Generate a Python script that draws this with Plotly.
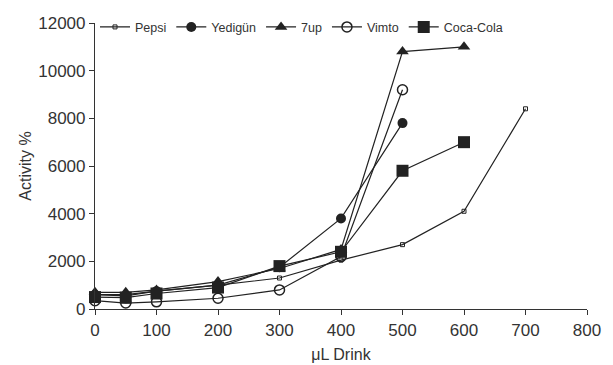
import plotly.graph_objects as go

doses = [0, 50, 100, 200, 300, 400, 500, 600, 700]
pepsi = [600, 600, 750, 1000, 1300, 2050, 2700, 4100, 8400]
yedigun = [600, 550, 750, 1000, 1750, 3800, 7800]
sevenup = [700, 700, 800, 1150, 1700, 2500, 10800, 11000]
vimto = [350, 250, 300, 450, 800, 2200, 9200]
cocacola = [500, 480, 650, 900, 1800, 2400, 5800, 7000]
y_ticks = [0, 2000, 4000, 6000, 8000, 10000, 12000]
x_ticks = [0, 100, 200, 300, 400, 500, 600, 700, 800]

series = [
    ("Pepsi", pepsi, dict(symbol="square-open", size=4, line=dict(width=1))),
    ("Yedigün", yedigun, dict(symbol="circle", size=10)),
    ("7up", sevenup, dict(symbol="triangle-up", size=11)),
    ("Vimto", vimto, dict(symbol="circle-open", size=10, line=dict(width=1.5))),
    ("Coca-Cola", cocacola, dict(symbol="square", size=12)),
]

fig = go.Figure()
for name, vals, mk in series:
    fig.add_trace(go.Scatter(
        x=doses[:len(vals)], y=vals, name=name, mode="lines+markers",
        line=dict(color="#222", width=1.2),
        marker=dict(color="#222", **mk),
        cliponaxis=False,
    ))

axis_font = dict(family="Liberation Sans, Arial, sans-serif", size=17, color="#333")
fig.update_layout(
    width=613, height=365,
    margin=dict(l=95, r=26, t=16, b=56),
    paper_bgcolor="white", plot_bgcolor="white",
    showlegend=True,
    legend=dict(orientation="h", x=0.0, xanchor="left", y=0.985, yanchor="middle",
                font=dict(family="Liberation Sans Narrow, Liberation Sans, Arial", size=12.5, color="#333"),
                bgcolor="rgba(0,0,0,0)", itemwidth=30, tracegroupgap=0),
    xaxis=dict(range=[0, 800], tickvals=x_ticks, ticktext=[str(v) for v in x_ticks],
               automargin=False,
               showline=True, linecolor="#333", linewidth=1.2, ticks="outside", ticklen=5,
               tickcolor="#333", showgrid=False, zeroline=False, tickfont=axis_font,
               title=dict(text="μL Drink", font=dict(family="Liberation Sans, Arial", size=16, color="#333"), standoff=10)),
    yaxis=dict(range=[0, 12000], tickvals=y_ticks, ticktext=[str(v) for v in y_ticks],
               automargin=False,
               showline=True, linecolor="#333", linewidth=1.2, ticks="outside", ticklen=5,
               tickcolor="#333", showgrid=False, zeroline=False, tickfont=axis_font,
               title=dict(text="Activity %", font=dict(family="Liberation Sans, Arial", size=16, color="#333"), standoff=2)),
)
fig.write_html("out.html")
